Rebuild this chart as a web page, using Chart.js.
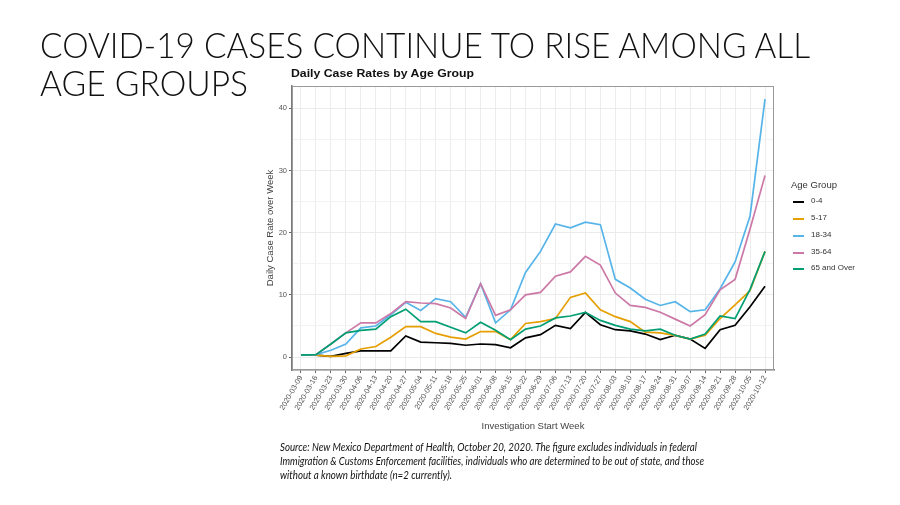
<!DOCTYPE html>
<html>
<head>
<meta charset="utf-8">
<script src="https://cdn.jsdelivr.net/npm/chart.js@4.4.1/dist/chart.umd.min.js"></script>
<style>
  html, body { margin: 0; padding: 0; background: #ffffff; }
  body { width: 900px; height: 505px; position: relative; overflow: hidden; }
  #c { position: absolute; left: 0; top: 0; }
  .t { position: absolute; white-space: nowrap; transform-origin: 0 0; }
  .slide { font-family: 'Lato', 'Liberation Sans', sans-serif; font-weight: 300; font-size: 36px; color: #111; line-height: 36px; }
  .src { font-family: 'Lato', 'Liberation Sans', sans-serif; font-style: italic; font-size: 11px; color: #111; line-height: 12px; }
  .ctitle { font-family: 'Liberation Sans', Arial, sans-serif; font-weight: bold; font-size: 11.5px; color: #111; }
  .leg { font-family: 'Liberation Sans', Arial, sans-serif; color: #333; }
</style>
</head>
<body>
<canvas id="c" width="900" height="505"></canvas>
<div id="overlay"></div>
<script>
// ---------- data ----------
const weeks = ["2020-03-09","2020-03-16","2020-03-23","2020-03-30","2020-04-06","2020-04-13","2020-04-20","2020-04-27",
  "2020-05-04","2020-05-11","2020-05-18","2020-05-25","2020-06-01","2020-06-08","2020-06-15","2020-06-22","2020-06-29",
  "2020-07-06","2020-07-13","2020-07-20","2020-07-27","2020-08-03","2020-08-10","2020-08-17","2020-08-24","2020-08-31",
  "2020-09-07","2020-09-14","2020-09-21","2020-09-28","2020-10-05","2020-10-12"];
const groupNames = ["0-4", "5-17", "18-34", "35-64", "65 and Over"];
const age0to4   = [0.3,0.3,0.1,0.6,1.0,1.0,1.0,3.4,2.4,2.3,2.2,1.9,2.1,2.0,1.5,3.1,3.6,5.1,4.6,7.2,5.2,4.4,4.2,3.7,2.8,3.5,2.9,1.4,4.4,5.1,8.1,11.4];
const age5to17  = [0.3,0.3,0.1,0.2,1.3,1.7,3.2,4.9,4.9,3.8,3.2,2.9,4.1,4.1,2.8,5.4,5.7,6.2,9.6,10.3,7.6,6.5,5.7,4.0,3.9,3.5,2.9,3.5,6.2,8.4,10.7,17.0];
const age18to34 = [0.3,0.4,1.1,2.1,4.7,5.0,6.8,8.8,7.5,9.4,8.9,6.4,11.8,5.5,7.6,13.6,17.0,21.4,20.8,21.7,21.3,12.5,11.1,9.3,8.3,8.9,7.3,7.6,11.0,15.3,22.7,41.5];
const age35to64 = [0.3,0.4,2.1,3.9,5.5,5.5,7.0,8.9,8.7,8.6,7.9,6.2,11.8,6.7,7.6,10.0,10.4,13.0,13.7,16.2,14.8,10.3,8.3,8.0,7.2,6.1,5.0,6.8,10.8,12.5,20.6,29.2];
const age65plus = [0.3,0.4,2.1,3.9,4.3,4.5,6.5,7.7,5.7,5.7,4.8,3.9,5.6,4.3,2.8,4.5,5.0,6.3,6.6,7.2,5.9,5.1,4.5,4.2,4.5,3.5,2.9,3.7,6.6,6.2,10.9,17.0];
const yTickValues = [0, 10, 20, 30, 40];
const yMinorValues = [5, 15, 25, 35];

// ---------- style ----------
const seriesValues = [age0to4, age5to17, age18to34, age35to64, age65plus];
const colors = ["#000000", "#E69F00", "#56B4E9", "#CC79A7", "#009E73"];

const datasets = seriesValues.map((vals, k) => ({
  label: groupNames[k],
  data: vals.map((v, i) => ({ x: i, y: v })),
  borderColor: colors[k],
  backgroundColor: colors[k],
  borderWidth: 1.7,
  pointRadius: 0,
  tension: 0,
  fill: false,
  order: seriesValues.length - 1 - k
}));

const panelBorder = {
  id: 'panelBorder',
  afterDraw(chart) {
    const a = chart.chartArea, ctx = chart.ctx;
    ctx.save();
    ctx.strokeStyle = '#9a9a9a';
    ctx.lineWidth = 1;
    ctx.strokeRect(a.left + 0.5, a.top + 0.5, a.right - a.left - 1, a.bottom - a.top - 1);
    ctx.restore();
  }
};

new Chart(document.getElementById('c'), {
  type: 'line',
  data: { datasets },
  plugins: [panelBorder],
  options: {
    responsive: false,
    animation: false,
    devicePixelRatio: 1,
    layout: { padding: { left: 263, right: 126, top: 86, bottom: 70 } },
    plugins: { legend: { display: false }, title: { display: false }, tooltip: { enabled: false } },
    scales: {
      x: {
        type: 'linear',
        min: -0.6, max: weeks.length - 1 + 0.6,
        afterBuildTicks: (s) => { s.ticks = weeks.map((w, i) => ({ value: i })); },
        afterFit: (s) => { s.height = 65; },
        ticks: {
          autoSkip: false, minRotation: 60, maxRotation: 60, padding: 1,
          color: '#555', font: { family: 'Liberation Sans', size: 7.5 },
          callback: (v) => weeks[v]
        },
        grid: { color: '#ececec', lineWidth: 1, tickLength: 3, tickColor: '#666' },
        border: { display: true, color: '#7a7a7a', width: 1.5 },
        title: { display: true, text: 'Investigation Start Week', color: '#444',
                 font: { family: 'Liberation Sans', size: 9.5 }, padding: { top: 2, bottom: 3 } }
      },
      y: {
        type: 'linear',
        min: -2.08, max: 43.6,
        afterBuildTicks: (s) => { s.ticks = yTickValues.concat(yMinorValues).sort((a,b)=>a-b).map(v => ({ value: v })); },
        afterFit: (s) => { s.width = 29; },
        ticks: {
          padding: 2, color: '#555', font: { family: 'Liberation Sans', size: 7.5 },
          callback: (v) => yTickValues.includes(v) ? String(v) : ''
        },
        grid: {
          color: (c) => (c.tick && yTickValues.includes(c.tick.value)) ? '#ebebeb' : '#f3f3f3',
          tickLength: 3,
          tickColor: (c) => (c.tick && yTickValues.includes(c.tick.value)) ? '#666' : 'rgba(0,0,0,0)'
        },
        border: { display: true, color: '#7a7a7a', width: 1.5 },
        title: { display: true, text: 'Daily Case Rate over Week', color: '#444',
                 font: { family: 'Liberation Sans', size: 9.5 }, padding: { top: 2, bottom: 2 } }
      }
    }
  }
});

// ---------- text overlay ----------
const ov = document.getElementById('overlay');
function addText(txt, cls, left, top, targetWidth) {
  const d = document.createElement('div');
  d.className = 't ' + cls;
  d.textContent = txt;
  d.style.left = left + 'px';
  d.style.top = top + 'px';
  ov.appendChild(d);
  if (targetWidth) {
    const w = d.getBoundingClientRect().width;
    d.style.transform = 'scaleX(' + (targetWidth / w) + ')';
  }
  return d;
}
addText('COVID-19 CASES CONTINUE TO RISE AMONG ALL', 'slide', 40, 26, 770);
addText('AGE GROUPS', 'slide', 40, 64, 208);
addText('Daily Case Rates by Age Group', 'ctitle', 291, 67, 183);
addText('Source: New Mexico Department of Health, October 20, 2020. The figure excludes individuals in federal', 'src', 280, 441, 417);
addText('Immigration & Customs Enforcement facilities, individuals who are determined to be out of state, and those', 'src', 280, 455, 424);
addText('without a known birthdate (n=2 currently).', 'src', 280, 469, 172);

// legend
const lt = addText('Age Group', 'leg', 791, 179);
lt.style.fontSize = '9.5px';
const legY = [202, 219, 236, 253, 269];
groupNames.forEach((g, k) => {
  const ln = document.createElement('div');
  ln.style.cssText = 'position:absolute;left:793px;width:11px;height:1.6px;top:' + (legY[k] - 1) + 'px;background:' + colors[k];
  ov.appendChild(ln);
  const tx = addText(g, 'leg', 811, legY[k] - 6);
  tx.style.fontSize = '8px';
});
</script>
</body>
</html>
